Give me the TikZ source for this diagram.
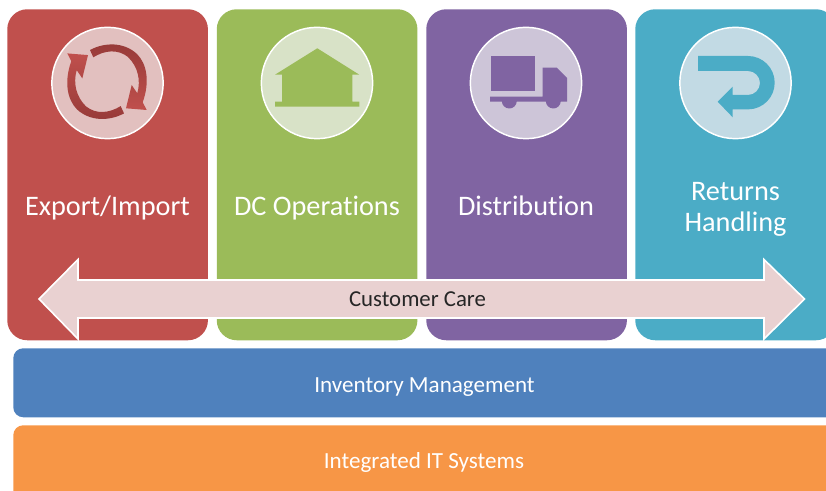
\documentclass[tikz,border=0pt]{standalone}
\usepackage{fontspec}
\setmainfont[Ligatures=CommonOff]{Carlito}
\usetikzlibrary{positioning}
\definecolor{redbox}{HTML}{C0504D}
\definecolor{greenbox}{HTML}{9BBB59}
\definecolor{purplebox}{HTML}{8064A2}
\definecolor{tealbox}{HTML}{4BACC6}
\definecolor{bluebar}{HTML}{4F81BD}
\definecolor{orangebar}{HTML}{F79646}
\definecolor{redcircle}{HTML}{E2C0BF}
\definecolor{greencircle}{HTML}{D8E2C7}
\definecolor{purplecircle}{HTML}{CDC5D8}
\definecolor{tealcircle}{HTML}{C2DAE4}
\definecolor{reddark}{HTML}{963A38}
\definecolor{arrowfill}{HTML}{E9D1D1}
\begin{document}
\begin{tikzpicture}[x=0.75pt, y=-0.75pt,
    panel/.style={rectangle, rounded corners=15pt, inner sep=0pt, minimum width=150.5pt, minimum height=248.25pt, anchor=north west},
    bar/.style={rectangle, rounded corners=7.5pt, inner sep=0pt, minimum width=630pt, anchor=north west},
    barlabel/.style={text=white, anchor=base, font=\fontsize{17.3}{20}\selectfont},
    title/.style={text=white, anchor=base, font=\fontsize{21.2}{23}\selectfont},
    badge/.style={circle, draw=white, line width=1.1pt, minimum size=83.5pt, inner sep=0pt}
]
    \useasboundingbox (0,0) rectangle (826,491);
    \clip (0,0) rectangle (826,491);

    \node[panel, fill=redbox] (export) at (7,9) {};
    \node[panel, fill=greenbox] (dc) at (216.5,9) {};
    \node[panel, fill=purplebox] (distribution) at (426,9) {};
    \node[panel, fill=tealbox] (returns) at (635,9) {};

    \node[bar, fill=bluebar, minimum height=51.75pt] (inventory) at (13,348) {};
    \node[bar, fill=orangebar, minimum height=60pt] (systems) at (13,425) {};
    \node[barlabel] (inventorylabel) at (424.5,392.5) {Inventory Management};
    \node[barlabel] (systemslabel) at (424,468.5) {Integrated IT Systems};

    \node[badge, fill=redcircle] (exportbadge) at (107.5,83) {};
    \node[badge, fill=greencircle] (dcbadge) at (317,83) {};
    \node[badge, fill=purplecircle] (distributionbadge) at (526,83) {};
    \node[badge, fill=tealcircle] (returnsbadge) at (735.5,83) {};

    \node[title] (exportlabel) at (107.5,216) {Export/Import};
    \node[title] (dclabel) at (317,216) {DC Operations};
    \node[title] (distributionlabel) at (526,216) {Distribution};
    \node[title] (returnslabel) at (735.5,201) {Returns};
    \node[title] (handlinglabel) at (735.5,232) {Handling};

    % cycle icon
    \foreach \turn/\topshade/\midshade/\lowshade in {0/reddark/redbox/redbox, 180/redbox/redbox/reddark}
        \shade[top color=\topshade, middle color=\midshade, bottom color=\lowshade, rotate around={\turn:(107,81.7)}]
            (90,50) .. controls (105,42) and (124,42) .. (137,54) .. controls (147,64) and (150,82) .. (142.7,102.3)
            -- (146.7,110) -- (126,108.3) -- (131.7,85) -- (137.3,93.3) .. controls (141,80) and (138,67) .. (128,57)
            .. controls (118,49) and (105,50) .. (93.3,57.3) -- cycle;

    % house icon
    \fill[greenbox] (317.3,48.3) -- (359.3,74.7) -- (352.3,74.7) -- (352.3,101.7) -- (359.3,101.7) -- (359.3,106.7) -- (275,106.7) -- (275,101.7) -- (282,101.7) -- (282,74.7) -- (275,74.7) -- cycle;

    % truck icon
    \fill[purplebox] (491,56) rectangle (535,91);
    \fill[purplebox] (490,96.7) -- (542.7,96.7) -- (542.7,67.7) -- (556.7,67.7) -- (567,78) -- (567,101.7) -- (490,101.7) -- cycle;
    \fill[purplebox] (501.8,101) arc[start angle=180, end angle=0, radius=7.5];
    \fill[purplebox] (545.8,101) arc[start angle=180, end angle=0, radius=7.5];

    % return icon
    \fill[tealbox] (698,56) -- (748,56) arc[start angle=-90, end angle=90, radius=26.7] -- (732.7,109.4) -- (732.7,117.3) -- (717.7,101.7) -- (732.7,86.7) -- (732.7,95) -- (748,95) arc[start angle=90, end angle=-90, radius=12] -- (698,71) -- cycle;

    % customer care arrow
    \draw[white, line width=1.2pt, fill=arrowfill] (39,299) -- (78,259.5) -- (78,280) -- (764,280) -- (764,259.5) -- (804.5,299) -- (764,339) -- (764,318) -- (78,318) -- (78,339) -- cycle;
    \node[anchor=base, text=black!85, font=\fontsize{17.1}{20}\selectfont] (carelabel) at (417.5,307) {Customer Care};
\end{tikzpicture}
\end{document}
